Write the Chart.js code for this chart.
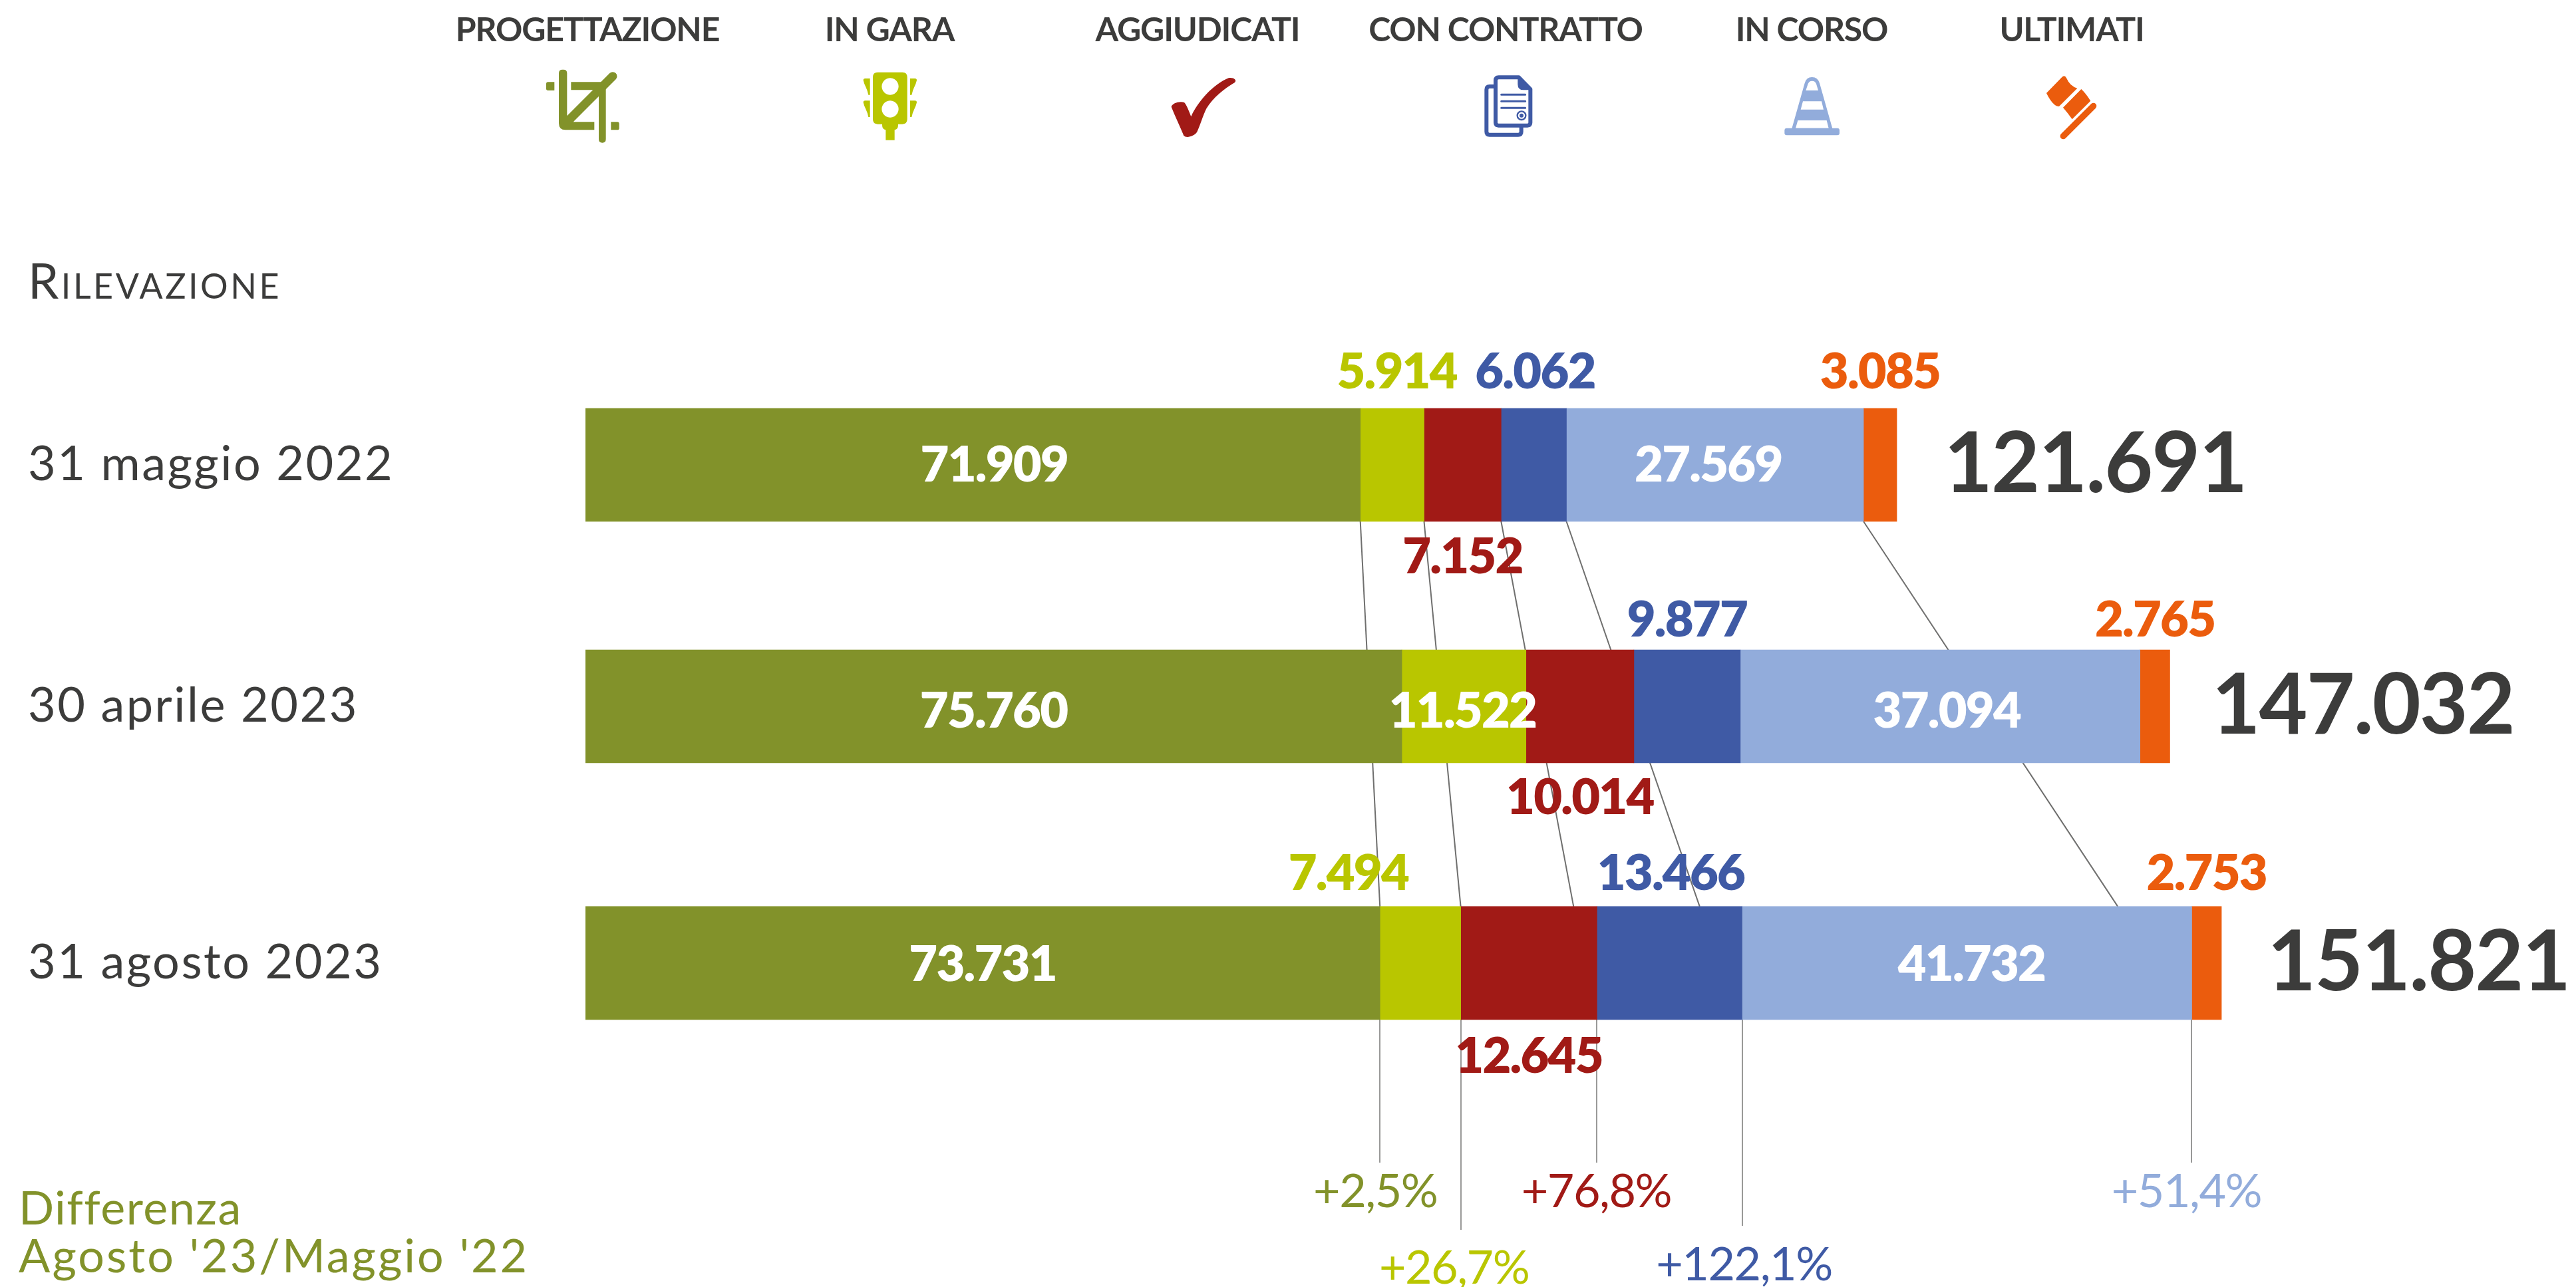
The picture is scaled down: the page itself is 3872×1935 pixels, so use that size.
<!DOCTYPE html>
<html lang="it">
<head>
<meta charset="utf-8">
<title>Rilevazione</title>
<style>html,body{margin:0;padding:0;background:#fff}canvas{display:block}</style>
<script src="https://cdn.jsdelivr.net/npm/chart.js@4"></script>
</head>
<body>
<canvas id="c" width="3872" height="1935"></canvas>
<script>
// ---- data ----
const categories = ["31 maggio 2022", "30 aprile 2023", "31 agosto 2023"];
const seriesNames = ["PROGETTAZIONE", "IN GARA", "AGGIUDICATI", "CON CONTRATTO", "IN CORSO", "ULTIMATI"];
const progettazione = [71909, 75760, 73731];
const inGara = [5914, 11522, 7494];
const aggiudicati = [7152, 10014, 12645];
const conContratto = [6062, 9877, 13466];
const inCorso = [27569, 37094, 41732];
const ultimati = [3085, 2765, 2753];
const totals = [121691, 147032, 151821];
const differences = ["+2,5%", "+26,7%", "+76,8%", "+122,1%", "+51,4%"];
// where each connector leaves the first row is a stack boundary; where it lands on the third row, in value units
const connectorEnds = [73731, 81225, 91700, 103400, 142200];

// ---- style & layout ----
const colors = ["#82922a", "#b9c600", "#a11a16", "#3f5aa5", "#92acdb", "#eb5c0d"];
const ink = "#3c3c3b";
const rowSlots = [0, 1, 2.063];
const FAMILY = '"Lato", sans-serif';
const fmt = v => String(v).replace(/\B(?=(\d{3})+$)/g, ".");
const allSeries = [progettazione, inGara, aggiudicati, conContratto, inCorso, ultimati];
const placement = [
  ["in", "in", "in"], ["above", "in", "above"], ["below", "below", "below"],
  ["above", "above", "above"], ["in", "in", "in"], ["above", "above", "above"]
];
const nudgeX = [[32,0,0],[7,-2,-108],[0,0,0],[2,0,2],[-10,10,7],[0,0,0]];
const insideDrop = [25, 32, 27], aboveGap = [30, 20, 25], belowDrop = [78, 77, 80];
const totalGap = [71, 63, 69];
const diffStops = [1748, 1849, 1748, 1843, 1748];
const diffBase = [1815, 1930, 1815, 1925, 1815];
const diffNudge = [-7, -10, -1, 3, -8];
const legendCenters = [883, 1337, 1800, 2263, 2723, 3114];

function text(ctx, str, x, y, font, color, align, spacing) {
  ctx.save();
  ctx.font = font; ctx.fillStyle = color; ctx.textAlign = align || "left";
  ctx.textBaseline = "alphabetic";
  ctx.letterSpacing = (spacing || 0) + "px";
  ctx.fillText(str, x, y);
  ctx.restore();
}
function P(ctx, ox, oy, color, build) {
  ctx.save();
  ctx.translate(ox, oy); ctx.scale(1/3, 1/3);
  ctx.fillStyle = color; ctx.strokeStyle = color;
  build(ctx);
  ctx.restore();
}
const icons = [
  c => P(c, 790, 90, colors[0], x => {
    x.fill(new Path2D("M150 60q0-16 16-16h5q16 0 16 16V280H310V316H180q-30 0-30-30Z"));
    x.fill(new Path2D("M205 100H362V358q0 16-16 16t-16-16V136H205Z"));
    x.fill(new Path2D("M93 108q0-8 8-8h29v38h-29q-8 0-8-8Z"));
    x.fill(new Path2D("M385 280h29q8 0 8 8v20q0 8-8 8h-29Z"));
    x.lineWidth = 39; x.lineCap = "round";
    x.stroke(new Path2D("M393 74L205 262"));
    x.lineCap = "butt"; x.stroke(new Path2D("M205 262L175 292"));
  }),
  c => P(c, 1270, 90, colors[1], x => {
    x.fill(new Path2D("M148 56H259q22 0 22 22V268q0 22-22 22H240v4q0 20-16 22v46H184V316q-16-2-16-22v-4H148q-22 0-22-22V78q0-22 22-22ZM204 82a38 38 0 1 0 .01 0ZM204 184a38 38 0 1 0 .01 0Z"), "evenodd");
    for (const d of [0, 100]) {
      x.fill(new Path2D(`M83 ${92+d}q0-8 8-8h22v${74}h-7q-4-20-12-36t-11-30Z`));
      x.fill(new Path2D(`M324 ${92+d}q0-8-8-8h-22v${74}h7q4-20 12-36t11-30Z`));
    }
  }),
  c => P(c, 1730, 90, colors[2], x => {
    x.fill(new Path2D("M92 212C95 195 130 185 150 192C160 200 175 240 181 256C210 190 280 110 350 82C370 78 390 90 378 102C330 130 280 170 250 220C235 250 220 300 208 325C195 345 160 355 148 342C135 310 105 245 92 212Z"));
  }),
  c => P(c, 2190, 90, colors[3], x => {
    x.lineWidth = 18; x.lineJoin = "round";
    x.stroke(new Path2D("M174 120H147q-14 0-14 14V324q0 14 14 14H276q14 0 14-14V300"));
    x.stroke(new Path2D("M188 79H279L331 132V283q0 13-13 13H187q-13 0-13-13V93q0-14 14-14Z"));
    x.fill(new Path2D("M274 80L338 136H300q-26 0-26-26Z"));
    x.lineWidth = 9; x.lineCap = "round";
    x.stroke(new Path2D("M200 157H308M200 187H308M200 217H308"));
    x.lineWidth = 7; x.stroke(new Path2D("M310 251a19 19 0 1 0-38 0a19 19 0 1 0 38 0"));
    x.fill(new Path2D("M300 251a9 9 0 1 0-18 0a9 9 0 1 0 18 0"));
  }),
  c => P(c, 2650, 90, colors[4], x => {
    x.fill(new Path2D("M107 308H335q10 0 10 10v12q0 10-10 10H107q-10 0-10-10V318q0-10 10-10Z"));
    x.fill(new Path2D("M130 310L188 105Q195 78 221 78Q247 78 255 105L313 310ZM193 138H249L240 108Q235 95 221 95Q208 95 203 108ZM180 187H264L273 224H170ZM157 273H287L296 308H147Z"), "evenodd");
  }),
  c => P(c, 3040, 90, colors[5], x => {
    x.fill(new Path2D("M108 150L178 78Q190 66 198 82Q215 120 247 128L165 210Q145 210 125 180Q115 165 108 150Z"));
    x.fill(new Path2D("M183 215L265 132Q285 150 307 185L224 268Q205 240 183 215Z"));
    x.lineWidth = 28; x.lineCap = "round";
    x.stroke(new Path2D("M320 208L184 344"));
  })
];

const connectors = {
  id: "connectors",
  beforeDraw(chart) { chart.ctx.letterSpacing = "2.5px"; },
  beforeDatasetsDraw(chart) {
    const { ctx, scales: { x } } = chart;
    ctx.letterSpacing = "0px";
    const r1 = chart.getDatasetMeta(0).data[0], r3 = chart.getDatasetMeta(0).data[2];
    const y1 = r1.y + r1.height / 2, y3 = r3.y - r3.height / 2;
    ctx.save(); ctx.strokeStyle = "#6f6f6e"; ctx.lineWidth = 2;
    connectorEnds.forEach((end, i) => {
      const x1 = chart.getDatasetMeta(i).data[0].x;
      ctx.beginPath(); ctx.moveTo(x1, y1); ctx.lineTo(x.getPixelForValue(end), y3); ctx.stroke();
    });
    const yb = r3.y + r3.height / 2;
    ctx.strokeStyle = "#777776"; ctx.lineWidth = 1.5;
    differences.forEach((d, i) => {
      const xb = Math.round(chart.getDatasetMeta(i).data[2].x);
      ctx.beginPath(); ctx.moveTo(xb, yb); ctx.lineTo(xb, diffStops[i]); ctx.stroke();
    });
    ctx.restore();
  },
  afterDatasetsDraw(chart) {
    const { ctx } = chart;
    // value labels
    const valueFont = `800 74px ${FAMILY}`;
    allSeries.forEach((vals, s) => {
      const meta = chart.getDatasetMeta(s);
      vals.forEach((v, r) => {
        const el = meta.data[r];
        const cx = (el.x + el.base) / 2 + nudgeX[s][r];
        const where = placement[s][r];
        const top = el.y - el.height / 2, bottom = el.y + el.height / 2;
        const y = where === "in" ? el.y + insideDrop[r] : where === "above" ? top - aboveGap[r] : bottom + belowDrop[r];
        text(ctx, fmt(v), cx, y, valueFont, where === "in" ? "#ffffff" : colors[s], "center", -1.8);
      });
    });
    // totals
    totals.forEach((t, r) => {
      const el = chart.getDatasetMeta(5).data[r];
      text(ctx, fmt(t), el.x + totalGap[r], el.y + 41, `700 126px ${FAMILY}`, ink, "left", -2);
    });
    // differences
    differences.forEach((d, i) => {
      const el = chart.getDatasetMeta(i).data[2];
      text(ctx, d, el.x + diffNudge[i], diffBase[i], `400 70px ${FAMILY}`, colors[i], "center", -1.5);
    });
    // legend
    seriesNames.forEach((n, i) => {
      text(ctx, n, legendCenters[i], 62, `700 50px ${FAMILY}`, ink, "center", -1.2);
      icons[i](ctx);
    });
    // side texts
    text(ctx, "Rilevazione", 42, 449, `small-caps 400 74px ${FAMILY}`, ink, "left", 3.5);
    text(ctx, "Differenza", 28, 1841, `400 70px ${FAMILY}`, colors[0], "left", 1.5);
    text(ctx, "Agosto '23/Maggio '22", 28, 1913, `400 70px ${FAMILY}`, colors[0], "left", 3);
  }
};

const PX_PER_VALUE = 0.016197;
const ROW_PX = 363;
new Chart(document.getElementById("c"), {
  type: "bar",
  plugins: [connectors],
  data: {
    labels: categories,
    datasets: allSeries.map((vals, s) => ({
      label: seriesNames[s],
      data: vals.map((v, r) => ({ x: v, y: rowSlots[r] })),
      backgroundColor: colors[s],
      borderWidth: 0,
      stack: "rilevazione",
      barThickness: 170
    }))
  },
  options: {
    indexAxis: "y",
    responsive: false,
    animation: false,
    events: [],
    layout: { padding: { left: 42, right: 0, top: 0, bottom: 0 } },
    plugins: { legend: { display: false }, tooltip: { enabled: false }, title: { display: false } },
    scales: {
      x: { type: "linear", stacked: true, display: false, min: 0, max: (3872 - 880) / PX_PER_VALUE },
      y: {
        type: "linear", reverse: true, offset: false,
        min: -699 / ROW_PX, max: (1935 - 699) / ROW_PX,
        grid: { display: false }, border: { display: false },
        afterFit: s => { s.width = 838; s.paddingTop = 0; s.paddingBottom = 0; },
        afterBuildTicks: s => { s.ticks = rowSlots.map(v => ({ value: v })); },
        ticks: {
          autoSkip: false, crossAlign: "far", padding: 0,
          color: ink, font: { family: FAMILY, size: 72, weight: "400" },
          callback: (v, i) => categories[i]
        }
      }
    }
  }
});
</script>
</body>
</html>
